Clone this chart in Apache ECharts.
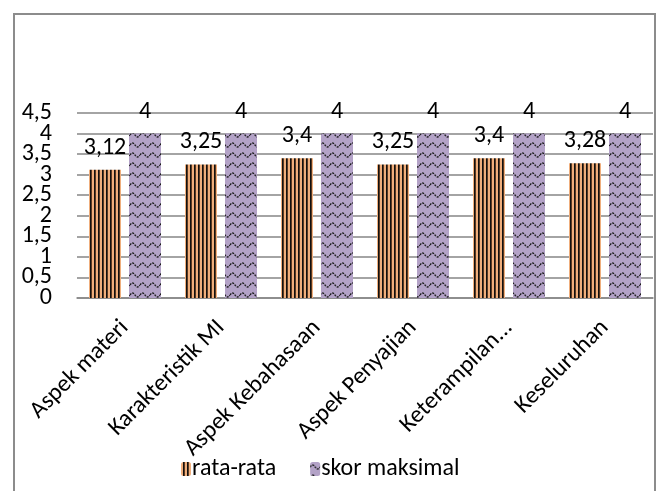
<!DOCTYPE html>
<html>
<head>
<meta charset="utf-8">
<script src="https://cdn.jsdelivr.net/npm/echarts@6/dist/echarts.min.js"></script>
<style>
  html, body { margin: 0; padding: 0; background: #fff; }
  #chart { width: 659px; height: 491px; }
</style>
</head>
<body>
<div id="chart"></div>
<script>
// Category names along the x axis
const categories = ['Aspek materi', 'Karakteristik MI', 'Aspek Kebahasaan', 'Aspek Penyajian', 'Keterampilan...', 'Keseluruhan'];
// Average score per aspect
const rataRata = [3.12, 3.25, 3.4, 3.25, 3.4, 3.28];
// Maximum attainable score
const skorMaksimal = [4, 4, 4, 4, 4, 4];
// Series names shown in the legend
const seriesNames = ['rata-rata', 'skor maksimal'];
// Value-axis tick labels (comma decimals), bottom to top
const yTickLabels = ['0', '0,5', '1', '1,5', '2', '2,5', '3', '3,5', '4', '4,5'];

const FONT = 'Carlito, Lato, "Liberation Sans", sans-serif';
const FS = 24;

// Vertical stripe fill: orange ground with dark stripes
function stripePattern() {
  const c = document.createElement('canvas');
  c.width = 4; c.height = 4;
  const g = c.getContext('2d');
  g.fillStyle = '#EFAE7C';
  g.fillRect(0, 0, 4, 4);
  g.fillStyle = '#111';
  g.fillRect(2, 0, 1, 4);
  g.fillStyle = '#5a3a22';
  g.fillRect(3, 0, 1, 4);
  return c;
}

// Wave fill: lavender ground with dotted black waves
function wavePattern() {
  const c = document.createElement('canvas');
  c.width = 10; c.height = 10;
  const g = c.getContext('2d');
  g.fillStyle = '#B3A2C7';
  g.fillRect(0, 0, 10, 10);
  g.strokeStyle = '#1a1a1a';
  g.lineWidth = 1.3;
  g.setLineDash([2, 1]);
  g.beginPath();
  for (let x = 0; x <= 10; x += 0.5) {
    const y = 5 + 2 * Math.sin((x / 10) * Math.PI * 2 + Math.PI);
    if (x === 0) g.moveTo(x, y); else g.lineTo(x, y);
  }
  g.stroke();
  return c;
}

const commaFmt = v => String(v).replace('.', ',');

const chart = echarts.init(document.getElementById('chart'), null, { renderer: 'canvas' });

const barLabel = {
  show: true,
  position: 'top',
  distance: 10,
  color: '#000',
  fontFamily: FONT,
  fontSize: FS,
  formatter: p => commaFmt(p.value)
};

chart.setOption({
  animation: false,
  backgroundColor: '#fff',
  textStyle: { fontFamily: FONT },
  graphic: [{
    type: 'rect',
    shape: { x: 14, y: 14, width: 641, height: 500 },
    style: { fill: 'none', stroke: '#8c8c8c', lineWidth: 2 },
    z: 0
  }],
  grid: { left: 77, right: 6, top: 113, bottom: 193, containLabel: false },
  legend: {
    data: seriesNames,
    left: 176,
    top: 452,
    itemWidth: 10,
    itemHeight: 14,
    itemGap: 34,
    textStyle: { fontFamily: FONT, fontSize: FS, color: '#000', padding: [0, 0, 0, -4] }
  },
  xAxis: {
    type: 'category',
    data: categories,
    axisLine: { lineStyle: { color: '#868686', width: 1.5 } },
    axisTick: { show: false },
    axisLabel: {
      rotate: 45,
      interval: 0,
      margin: 26,
      color: '#000',
      fontFamily: FONT,
      fontSize: FS
    }
  },
  yAxis: [
    {
      // value scale: bars and gridlines
      type: 'value',
      min: 0,
      max: 4.5,
      interval: 0.5,
      axisLine: { show: false },
      axisTick: { show: false },
      axisLabel: { show: false },
      splitLine: { lineStyle: { color: '#868686', width: 1.5 } }
    },
    {
      // tick labels, every one shown even though they sit tightly stacked
      type: 'category',
      position: 'left',
      data: yTickLabels,
      boundaryGap: false,
      axisLine: { show: false },
      axisTick: { show: false },
      splitLine: { show: false },
      axisLabel: {
        interval: 0,
        margin: 25,
        color: '#000',
        fontFamily: FONT,
        fontSize: FS
      }
    }
  ],
  series: [
    {
      name: seriesNames[0],
      type: 'bar',
      data: rataRata,
      barWidth: 32,
      barGap: '25%',
      itemStyle: { color: { image: stripePattern(), repeat: 'repeat' } },
      label: barLabel
    },
    {
      name: seriesNames[1],
      type: 'bar',
      data: skorMaksimal,
      barWidth: 32,
      itemStyle: { color: { image: wavePattern(), repeat: 'repeat' } },
      label: barLabel
    }
  ]
});
</script>
</body>
</html>
